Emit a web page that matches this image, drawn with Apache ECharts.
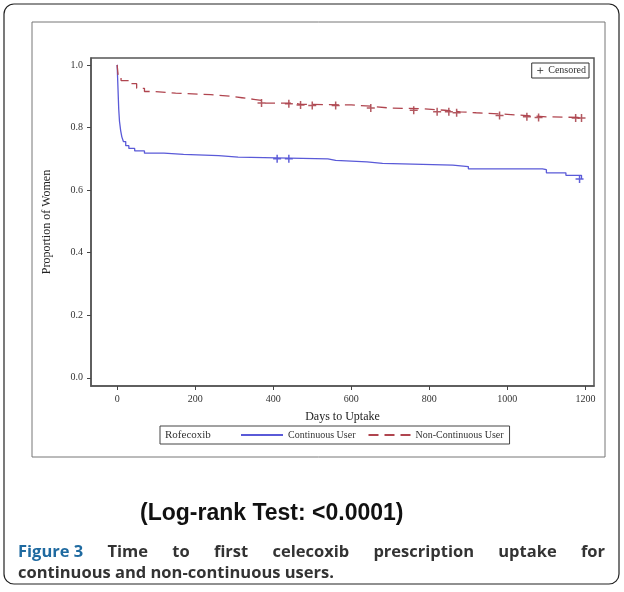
<!DOCTYPE html>
<html><head><meta charset="utf-8">
<script src="https://cdn.jsdelivr.net/npm/echarts@6/dist/echarts.min.js"></script>
<style>html,body{margin:0;background:#fff}#c{width:624px;height:592px}</style>
</head><body><div id="c"></div>
<script>
const xTicks = [0, 200, 400, 600, 800, 1000, 1200];
const yTicks = [0, 0.2, 0.4, 0.6, 0.8, 1.0];
// Kaplan-Meier steps [day, survival]
const continuous = [[0,1],[2,0.93],[4,0.86],[6,0.82],[9,0.79],[12,0.77],[16,0.755],[22,0.742],[30,0.733],[45,0.725],[70,0.718],[120,0.714],[170,0.71],[260,0.705],[310,0.70],[540,0.695],[560,0.69],[640,0.685],[680,0.68],[860,0.675],[900,0.668],[1090,0.665],[1100,0.655],[1150,0.647],[1190,0.64],[1190,0.635]];
const nonContinuous = [[0,1],[3,0.96],[10,0.95],[30,0.94],[50,0.925],[70,0.915],[90,0.91],[150,0.905],[240,0.90],[290,0.895],[320,0.89],[350,0.885],[380,0.878],[450,0.874],[470,0.872],[600,0.868],[650,0.862],[700,0.86],[780,0.855],[840,0.85],[880,0.847],[920,0.842],[1000,0.838],[1050,0.834],[1100,0.832],[1190,0.83]];
const censoredCont = [[410,0.70],[440,0.70],[1185,0.635]];
const censoredNon = [[370,0.878],[440,0.876],[470,0.872],[500,0.87],[560,0.87],[650,0.862],[760,0.855],[820,0.85],[850,0.85],[870,0.847],[980,0.838],[1050,0.834],[1080,0.832],[1175,0.83],[1190,0.83]];
const captionWords = ['Time', 'to', 'first', 'celecoxib', 'prescription', 'uptake', 'for'];

const plus = 'path://M0,5L10,5M5,0L5,10';
const serif = '"Liberation Serif", "DejaVu Serif", serif';
const capFont = 'bold 16.5px "Open Sans", sans-serif';
const chart = echarts.init(document.getElementById('c'));

// justify the first caption line between x=18 and x=605
const ctx = document.createElement('canvas').getContext('2d');
ctx.font = capFont;
const firstWidth = ctx.measureText('Figure 3').width;
const widths = captionWords.map(w => ctx.measureText(w).width);
const gap = (605 - 18 - firstWidth - widths.reduce((a, b) => a + b, 0)) / captionWords.length;
let cx = 18 + firstWidth + gap;
const wordGraphics = captionWords.map((w, i) => {
  const g = { type: 'text', left: cx, top: 544, style: { text: w, font: capFont, fill: '#333' } };
  cx += widths[i] + gap;
  return g;
});

chart.setOption({
  animation: false,
  textStyle: { fontFamily: serif },
  grid: { left: 91, right: 30, top: 58, bottom: 206, show: true, borderColor: '#555', borderWidth: 1.5, backgroundColor: 'transparent' },
  xAxis: {
    type: 'value', min: -67, max: 1222,
    name: 'Days to Uptake', nameLocation: 'middle', nameGap: 25,
    nameTextStyle: { fontFamily: serif, fontSize: 12, color: '#222' },
    axisLine: { onZero: false, lineStyle: { color: '#555', width: 1.5 } },
    axisTick: { customValues: xTicks, length: 4, lineStyle: { color: '#444' } },
    axisLabel: { customValues: xTicks, formatter: v => String(v), fontFamily: serif, fontSize: 10, color: '#333', margin: 8 },
    splitLine: { show: false }
  },
  yAxis: {
    type: 'value', min: -0.026, max: 1.022,
    name: 'Proportion of Women', nameLocation: 'middle', nameGap: 38, nameRotate: 90,
    nameTextStyle: { fontFamily: serif, fontSize: 12, color: '#222' },
    axisLine: { onZero: false, show: true, lineStyle: { color: '#555', width: 1.5 } },
    axisTick: { show: true, customValues: yTicks, length: 4, lineStyle: { color: '#444' } },
    axisLabel: { customValues: yTicks, formatter: v => v.toFixed(1), fontFamily: serif, fontSize: 10, color: '#333' },
    splitLine: { show: false }
  },
  legend: [{
    data: ['Continuous User', 'Non-Continuous User'],
    bottom: 148, left: 160, itemWidth: 42, itemHeight: 2, itemGap: 12,
    borderColor: '#444', borderWidth: 1, padding: [4, 6, 4, 80],
    textStyle: { fontFamily: serif, fontSize: 10, color: '#333' }
  }, {
    data: [{ name: 'Censored', icon: plus, itemStyle: { color: 'none', borderColor: '#333', borderWidth: 1 } }],
    top: 63, right: 35, itemWidth: 6, itemHeight: 6, itemGap: 2,
    borderColor: '#333', borderWidth: 1, padding: [2, 3],
    textStyle: { fontFamily: serif, fontSize: 10, color: '#333' }
  }],
  series: [
    { name: 'Continuous User', type: 'line', step: 'end', data: continuous, symbol: 'none',
      lineStyle: { color: '#5a5ad8', width: 1.3 }, itemStyle: { color: '#5a5ad8' } },
    { name: 'Non-Continuous User', type: 'line', step: 'end', data: nonContinuous, symbol: 'none',
      lineStyle: { color: '#b0454f', width: 1.3, type: [10, 6] }, itemStyle: { color: '#b0454f' } },
    { name: 'Censored', type: 'scatter', data: censoredCont, symbol: plus, symbolSize: 8,
      itemStyle: { color: 'none', borderColor: '#3a3ad0', borderWidth: 1.5 } },
    { name: 'Censored', type: 'scatter', data: censoredNon, symbol: plus, symbolSize: 8,
      itemStyle: { color: 'none', borderColor: '#a0303a', borderWidth: 1.5 } }
  ],
  graphic: [
    { type: 'rect', shape: { x: 4, y: 4, width: 615, height: 580, r: 10 }, style: { fill: 'none', stroke: '#222', lineWidth: 1.2 }, z: -1 },
    { type: 'rect', shape: { x: 32, y: 22, width: 573, height: 435 }, style: { fill: 'none', stroke: '#777', lineWidth: 1 }, z: -1 },
    { type: 'text', left: 165, top: 430, z: 10, style: { text: 'Rofecoxib', font: '11px ' + serif, fill: '#333' } },
    { type: 'text', left: 140, top: 502, style: { text: '(Log-rank Test: <0.0001)', font: 'bold 23px "Liberation Sans", Arial, sans-serif', fill: '#111' } },
    { type: 'text', left: 18, top: 544, style: { text: 'Figure 3', font: capFont, fill: '#1f6aa0' } },
    ...wordGraphics,
    { type: 'text', left: 18, top: 565, style: { text: 'continuous and non-continuous users.', font: capFont, fill: '#333' } }
  ]
});
</script></body></html>
